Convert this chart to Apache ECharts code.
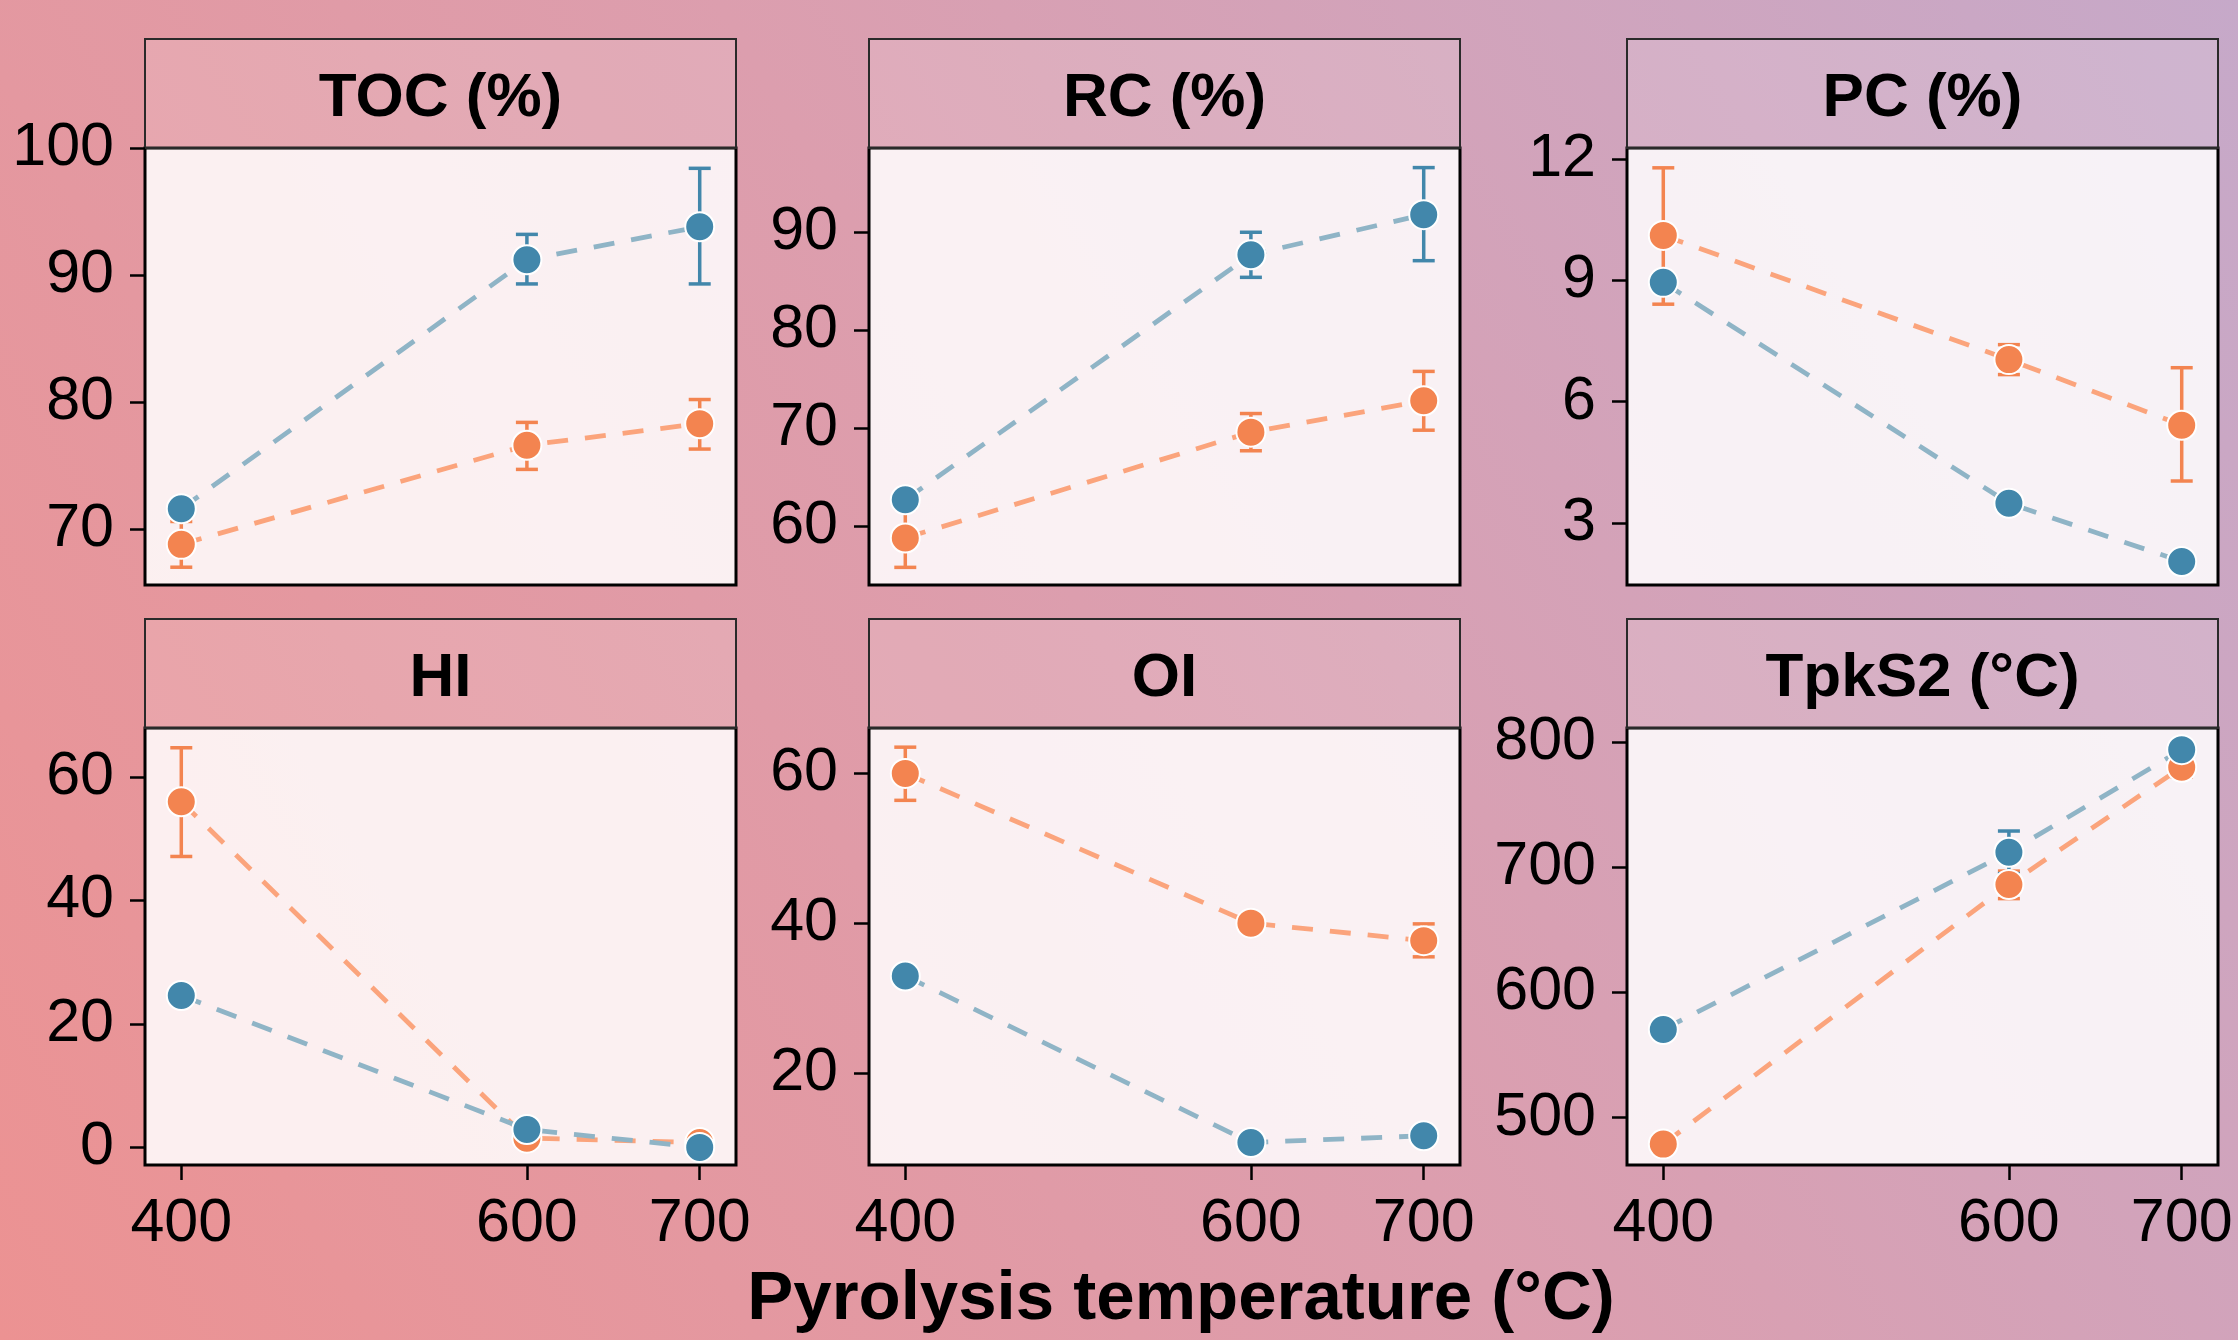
<!DOCTYPE html>
<html>
<head>
<meta charset="utf-8">
<title>Pyrolysis panels</title>
<script src="https://cdn.jsdelivr.net/npm/echarts@6/dist/echarts.min.js"></script>
<style>
  html, body { margin: 0; padding: 0; }
  #main { width: 2238px; height: 1340px; }
</style>
</head>
<body>
<div id="main"></div>
<script>
// data
var temps = [400, 600, 700];
var panelNames = ['TOC (%)', 'RC (%)', 'PC (%)', 'HI', 'OI', 'TpkS2 (°C)'];

var tocBlue = [71.6, 91.2, 93.8];
var tocBlueLo = [71.1, 89.3, 89.3];
var tocBlueHi = [72.1, 93.2, 98.4];
var tocOrange = [68.8, 76.6, 78.3];
var tocOrangeLo = [67.0, 74.7, 76.3];
var tocOrangeHi = [70.6, 78.4, 80.2];

var rcBlue = [62.7, 87.7, 91.8];
var rcBlueLo = [62.2, 85.4, 87.1];
var rcBlueHi = [63.2, 90.0, 96.6];
var rcOrange = [58.8, 69.6, 72.8];
var rcOrangeLo = [55.8, 67.7, 69.8];
var rcOrangeHi = [61.8, 71.5, 75.8];

var pcBlue = [8.95, 3.49, 2.05];
var pcBlueLo = [8.85, 3.4, 1.95];
var pcBlueHi = [9.05, 3.6, 2.15];
var pcOrange = [10.11, 7.04, 5.42];
var pcOrangeLo = [8.41, 6.67, 4.04];
var pcOrangeHi = [11.78, 7.41, 6.84];

var hiBlue = [24.6, 2.9, 0.0];
var hiBlueLo = [24.2, 2.5, -0.3];
var hiBlueHi = [25.0, 3.3, 0.3];
var hiOrange = [55.95, 1.5, 0.8];
var hiOrangeLo = [47.1, 1.0, 0.3];
var hiOrangeHi = [64.7, 2.0, 1.3];

var oiBlue = [32.95, 10.7, 11.6];
var oiBlueLo = [32.6, 10.4, 11.3];
var oiBlueHi = [33.3, 11.0, 11.9];
var oiOrange = [60.0, 40.0, 37.66];
var oiOrangeLo = [56.4, 39.6, 35.5];
var oiOrangeHi = [63.5, 40.4, 39.9];

var tpkBlue = [570.5, 712, 794];
var tpkBlueLo = [568, 695, 790];
var tpkBlueHi = [573, 729, 798];
var tpkOrange = [478.9, 686.3, 780];
var tpkOrangeLo = [476, 675, 772];
var tpkOrangeHi = [482, 697, 788];

// y ranges and tick labels per panel
var yMins = [65.6, 54.0, 1.47, -2.85, 7.7, 462.2];
var yMaxs = [100, 98.6, 12.27, 67.9, 66.06, 811.3];
var yTicks = [
  [70, 80, 90, 100],
  [60, 70, 80, 90],
  [3, 6, 9, 12],
  [0, 20, 40, 60],
  [20, 40, 60],
  [500, 600, 700, 800]
];
var xMin = 379, xMax = 721;

var blueSets = [
  [tocBlue, tocBlueLo, tocBlueHi],
  [rcBlue, rcBlueLo, rcBlueHi],
  [pcBlue, pcBlueLo, pcBlueHi],
  [hiBlue, hiBlueLo, hiBlueHi],
  [oiBlue, oiBlueLo, oiBlueHi],
  [tpkBlue, tpkBlueLo, tpkBlueHi]
];
var orangeSets = [
  [tocOrange, tocOrangeLo, tocOrangeHi],
  [rcOrange, rcOrangeLo, rcOrangeHi],
  [pcOrange, pcOrangeLo, pcOrangeHi],
  [hiOrange, hiOrangeLo, hiOrangeHi],
  [oiOrange, oiOrangeLo, oiOrangeHi],
  [tpkOrange, tpkOrangeLo, tpkOrangeHi]
];

// layout
var colLeft = [145, 869, 1627];
var colWidth = 591;
var rowTop = [148, 728];
var panelHeight = 437;
var stripHeight = 109;

var FONT = '"Liberation Sans", Arial, Helvetica, sans-serif';
var BLUE = '#4287ab', BLUE_LINE = '#8fb4c6';
var ORANGE = '#f38450', ORANGE_LINE = '#fba47c';

function pairs(ys) {
  return temps.map(function (t, i) { return [t, ys[i]]; });
}
function triples(lo, hi) {
  return temps.map(function (t, i) { return [t, lo[i], hi[i]]; });
}

function errorBars(color) {
  return function (params, api) {
    var x = api.value(0);
    var pLo = api.coord([x, api.value(1)]);
    var pHi = api.coord([x, api.value(2)]);
    var hw = 11;
    var st = { stroke: color, lineWidth: 3.5 };
    return {
      type: 'group',
      children: [
        { type: 'line', shape: { x1: pLo[0], y1: pLo[1], x2: pHi[0], y2: pHi[1] }, style: st },
        { type: 'line', shape: { x1: pLo[0] - hw, y1: pLo[1], x2: pLo[0] + hw, y2: pLo[1] }, style: st },
        { type: 'line', shape: { x1: pHi[0] - hw, y1: pHi[1], x2: pHi[0] + hw, y2: pHi[1] }, style: st }
      ]
    };
  };
}

var grids = [], xAxes = [], yAxes = [], series = [], graphics = [];

for (var p = 0; p < 6; p++) {
  var row = Math.floor(p / 3), col = p % 3;
  var bottomRow = row === 1;
  grids.push({
    left: colLeft[col], top: rowTop[row], width: colWidth, height: panelHeight,
    show: true, backgroundColor: 'rgba(255,255,255,0.85)',
    borderColor: '#000', borderWidth: 3
  });
  xAxes.push({
    type: 'value', gridIndex: p, min: xMin, max: xMax, position: 'bottom',
    axisLine: { show: false, onZero: false },
    splitLine: { show: false },
    axisTick: {
      show: bottomRow, customValues: temps, length: 15,
      lineStyle: { color: '#000', width: 2.5 }
    },
    axisLabel: {
      show: bottomRow, customValues: temps, margin: 29,
      fontSize: 61, color: '#000', fontFamily: FONT
    }
  });
  yAxes.push({
    type: 'value', gridIndex: p, min: yMins[p], max: yMaxs[p],
    axisLine: { show: false, onZero: false },
    splitLine: { show: false },
    axisTick: {
      show: true, customValues: yTicks[p], length: 15,
      lineStyle: { color: '#000', width: 2.5 }
    },
    axisLabel: {
      customValues: yTicks[p], margin: 31,
      fontSize: 61, color: '#000', fontFamily: FONT
    }
  });

  var sets = [[orangeSets[p], ORANGE, ORANGE_LINE], [blueSets[p], BLUE, BLUE_LINE]];
  sets.forEach(function (s, k) {
    var d = s[0];
    series.push({
      type: 'custom', xAxisIndex: p, yAxisIndex: p, z: 2 + k,
      renderItem: errorBars(s[1]),
      data: triples(d[1], d[2]),
      clip: false, silent: true
    });
    series.push({
      type: 'line', xAxisIndex: p, yAxisIndex: p, z: 4 + k,
      data: pairs(d[0]), symbol: 'none', silent: true,
      lineStyle: { color: s[2], width: 4.8, type: [21, 17] }
    });
  });
  sets.forEach(function (s, k) {
    series.push({
      type: 'scatter', xAxisIndex: p, yAxisIndex: p, z: 10 + k,
      data: pairs(s[0][0]), symbolSize: 29, silent: true,
      itemStyle: { color: s[1], borderColor: '#fff', borderWidth: 2, opacity: 1 }
    });
  });

  // facet strip
  graphics.push({
    type: 'rect', silent: true,
    shape: { x: colLeft[col], y: rowTop[row] - stripHeight, width: colWidth, height: stripHeight },
    style: { fill: 'rgba(255,255,255,0.14)', stroke: '#2a2a2a', lineWidth: 2 }
  });
  graphics.push({
    type: 'text', silent: true,
    x: colLeft[col] + colWidth / 2, y: rowTop[row] - stripHeight / 2 + 5,
    style: {
      text: panelNames[p], fill: '#000', font: 'bold 62px ' + FONT,
      textAlign: 'center', textVerticalAlign: 'middle'
    }
  });
}

graphics.push({
  type: 'text', silent: true,
  x: 1181, y: 1300,
  style: {
    text: 'Pyrolysis temperature (°C)', fill: '#000', font: 'bold 69px ' + FONT,
    textAlign: 'center', textVerticalAlign: 'middle'
  }
});

var chart = echarts.init(document.getElementById('main'), null, { renderer: 'canvas' });
chart.setOption({
  animation: false,
  backgroundColor: new echarts.graphic.LinearGradient(0, 1, 1, 0, [
    { offset: 0, color: '#ec9292' },
    { offset: 0.5, color: '#dc9eae' },
    { offset: 1, color: '#c6a9c9' }
  ]),
  grid: grids,
  xAxis: xAxes,
  yAxis: yAxes,
  series: series,
  graphic: graphics
});
</script>
</body>
</html>
